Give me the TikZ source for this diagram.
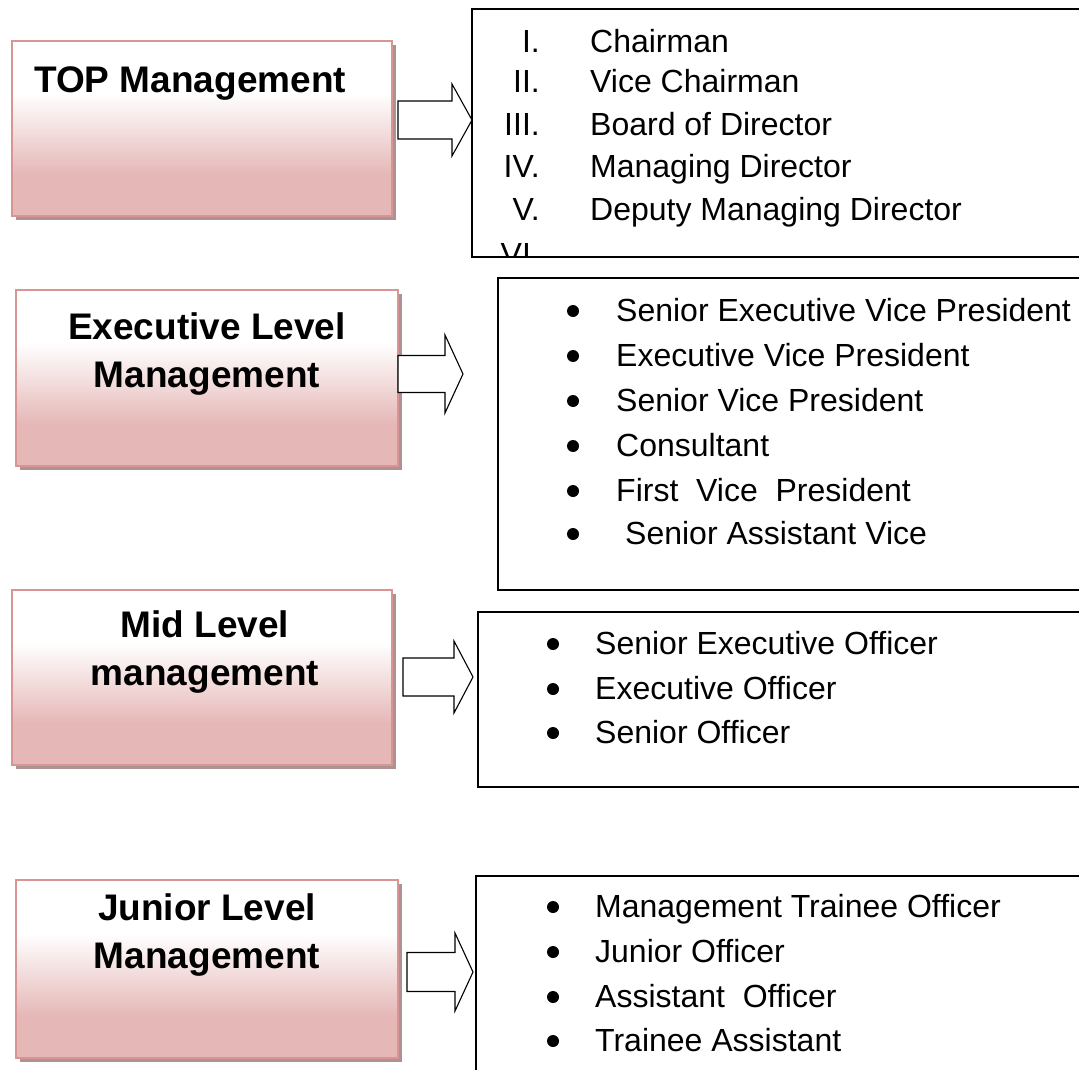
\documentclass[tikz,border=0pt]{standalone}
\usepackage{fontspec}
\setmainfont{Liberation Sans}
\usetikzlibrary{backgrounds}

\definecolor{rosebd}{RGB}{217,149,148}
\definecolor{rosefill}{RGB}{229,184,183}
\definecolor{roseshadow}{RGB}{172,146,146}

% white at the top, fading into rose towards the bottom
\pgfdeclareverticalshading{pinkfade}{100bp}{color(0bp)=(rosefill); color(37bp)=(rosefill); color(60bp)=(white); color(100bp)=(white)}

% hollow block arrow: left x, head base x, tip x, centre y, shaft half height, head half height
\newcommand{\hollowarrow}[6]{%
  \draw[blockarrow] (#1,#4-#5) -- (#2,#4-#5) -- (#2,#4-#6) -- (#3,#4)
    -- (#2,#4+#6) -- (#2,#4+#5) -- (#1,#4+#5) -- cycle;}

\begin{document}
\begin{tikzpicture}[x=1pt,y=-1pt,
  levelbox/.style={rectangle, draw=rosebd, line width=2pt, shade, shading=pinkfade,
    inner sep=0pt, outer sep=0pt},
  listbox/.style={rectangle, draw=black, line width=2pt, fill=white, inner sep=0pt, outer sep=0pt},
  head/.style={font=\fontsize{37}{48}\selectfont\bfseries, align=center, inner sep=0pt},
  item/.style={font=\fontsize{32}{44}\selectfont, inner sep=0pt, anchor=base west},
  numeral/.style={font=\fontsize{32}{44}\selectfont, inner sep=0pt, anchor=base east},
  dot/.style={circle, fill=black, inner sep=0pt, minimum size=12pt},
  blockarrow/.style={draw=black, line width=1.1pt, fill=white, line join=miter}
]
\useasboundingbox (0,0) rectangle (1079,1070);
\clip (0,0) rectangle (1079,1070);

% ---------- level boxes ----------
\node[levelbox, minimum width=380pt, minimum height=175pt] (lvtop) at (202,128.5) {};
\node[levelbox, minimum width=382pt, minimum height=176pt] (lvexec) at (207,378) {};
\node[levelbox, minimum width=380pt, minimum height=175pt] (lvmid) at (202,677.5) {};
\node[levelbox, minimum width=382pt, minimum height=178pt] (lvjun) at (207,969) {};

\begin{scope}[on background layer]
  \foreach \b in {lvtop,lvexec,lvmid,lvjun}
    \fill[roseshadow] ([shift={(4,4)}]\b.south west) rectangle ([shift={(4,4)}]\b.north east);
\end{scope}

\node[head, anchor=base west] (ttop) at (34,93) {TOP Management};
\node[head] (texec) at (207,354.5) {Executive Level\\Management};
\node[head] (tmid) at (205,652) {Mid Level\\management};
\node[head] (tjun) at (207,935) {Junior Level\\Management};

% ---------- list boxes ----------
\node[listbox, minimum width=618pt, minimum height=248pt] (lstop) at (781,133) {};
\node[listbox, minimum width=592pt, minimum height=312pt] (lsexec) at (794,434) {};
\node[listbox, minimum width=612pt, minimum height=175pt] (lsmid) at (784,699.5) {};
\node[listbox, minimum width=614pt, minimum height=214pt] (lsjun) at (783,983) {};

% ---------- arrows ----------
\hollowarrow{398}{452}{472}{120}{19}{36}
\hollowarrow{398}{445}{463}{374}{18.5}{39}
\hollowarrow{403}{454}{473}{677}{19}{36}
\hollowarrow{407}{455}{473}{972}{19.5}{39}

% ---------- top management list ----------
\begin{scope}
  \clip (473,10) rectangle (1079,256);
  \foreach \n/\t/\y [count=\i] in {I./Chairman/42, II./Vice Chairman/82,
      III./Board of Director/124.5, IV./Managing Director/167,
      V./Deputy Managing Director/209.5, VI./{}/254} {
    \node[numeral] (tn\i) at (540,\y+11) {\n};
    \node[item] (ti\i) at (590,\y+11) {\t};
  }
\end{scope}

% ---------- executive list ----------
\foreach \t/\y [count=\i] in {Senior Executive Vice President/310, Executive Vice President/355,
    Senior Vice President/400, Consultant/445, First\ \ Vice\ \ President/490} {
  \node[dot] (eb\i) at (573,\y+1) {};
  \node[item] (ei\i) at (616,\y+11) {\t};
}
\node[dot] (eb6) at (573,534) {};
\node[item] (ei6) at (625,544) {Senior Assistant Vice};

% ---------- mid list ----------
\foreach \t/\y [count=\i] in {Senior Executive Officer/643, Executive Officer/688, Senior Officer/732} {
  \node[dot] (mb\i) at (553,\y+1) {};
  \node[item] (mi\i) at (595,\y+11) {\t};
}

% ---------- junior list ----------
\foreach \t/\y [count=\i] in {Management Trainee Officer/906, Junior Officer/951,
    Assistant\ \ Officer/996, Trainee Assistant/1040} {
  \node[dot] (jb\i) at (553,\y+1) {};
  \node[item] (ji\i) at (595,\y+11) {\t};
}
\end{tikzpicture}
\end{document}
